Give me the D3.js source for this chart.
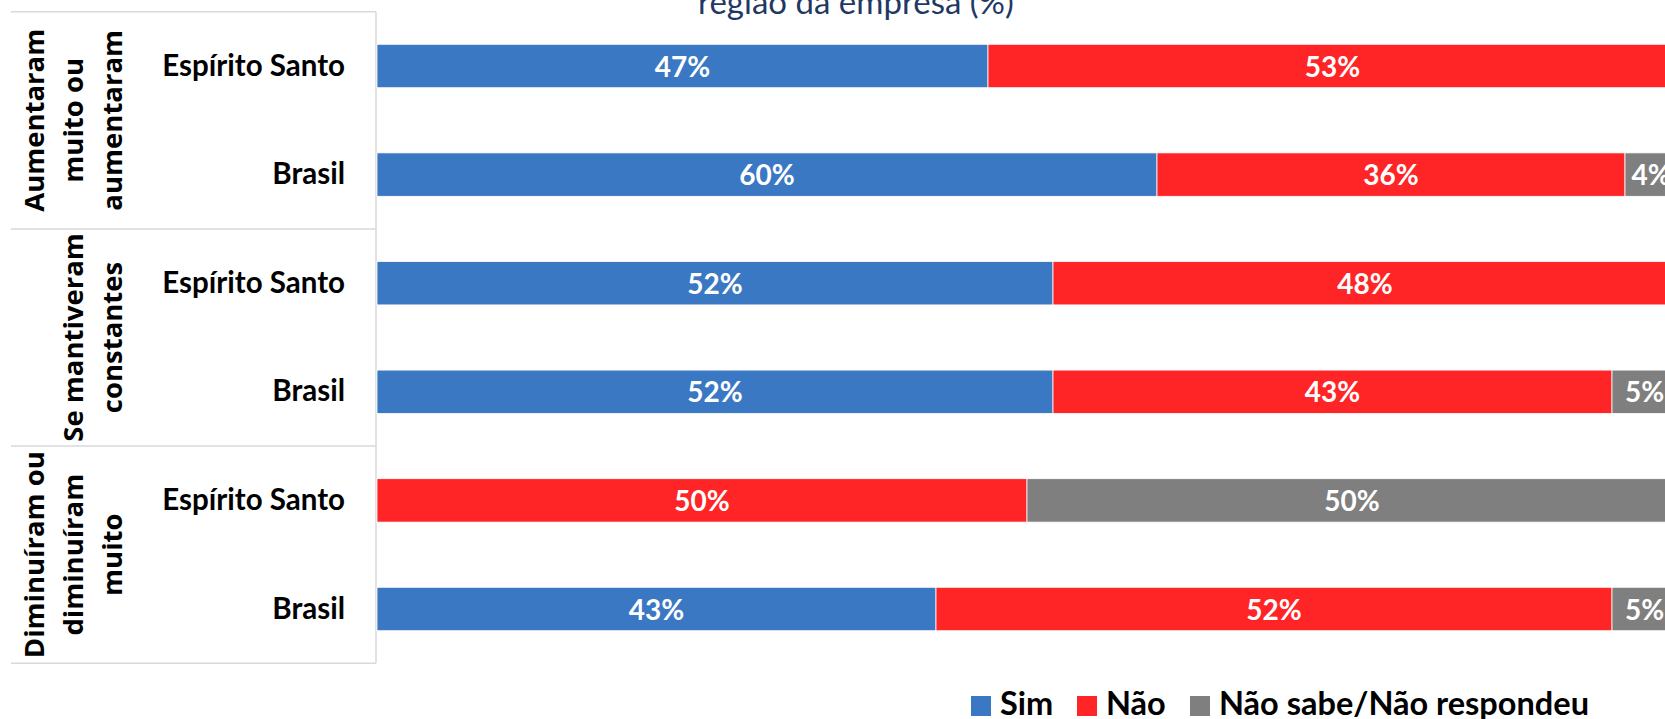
<!DOCTYPE html>
<html>
<head>
<meta charset="utf-8">
<script src="https://cdn.jsdelivr.net/npm/d3@7"></script>
<style>
  html, body { margin: 0; padding: 0; background: #ffffff; overflow: hidden; }
  svg { display: block; }
</style>
</head>
<body>
<svg id="chart" width="1665" height="719"></svg>
<script>
// data
var groupLabels = [
    ["Aumentaram", "muito ou", "aumentaram"],
    ["Se mantiveram", "constantes"],
    ["Diminuíram ou", "diminuíram", "muito"]
];
var rowLabels = ["Espírito Santo", "Brasil", "Espírito Santo", "Brasil", "Espírito Santo", "Brasil"];
var sim  = [47, 60, 52, 52, 0, 43];
var nao  = [53, 36, 48, 43, 50, 52];
var nsnr = [0, 4, 0, 5, 50, 5];
var seriesNames = ["Sim", "Não", "Não sabe/Não respondeu"];
var seriesColors = ["#3b78c4", "#ff2526", "#7f7f7f"];
var title = "região da empresa (%)";

var svg = d3.select("#chart"),
    width = +svg.attr("width"),
    height = +svg.attr("height");

var tableLeft = 11, tableRight = 376, tableTop = 11.7, tableBottom = 663.3;

// rows (band scale keeps every bar on the same grid as the table)
var rowIds = d3.range(rowLabels.length);
var y = d3.scaleBand()
    .domain(rowIds)
    .range([tableTop, tableBottom])
    .paddingInner(0.6)
    .paddingOuter(0.3);

var x = d3.scaleLinear().domain([0, 100]).range([377, 1677]);

var table = rowIds.map(function (i) {
    return { id: i, "Sim": sim[i], "Não": nao[i], "Não sabe/Não respondeu": nsnr[i] };
});
var stacked = d3.stack().keys(seriesNames)(table);

// title (clipped at the top in the original)
svg.append("text")
    .attr("x", 856)
    .attr("y", 14)
    .attr("text-anchor", "middle")
    .attr("fill", "#1f3864")
    .style("font-family", "Lato, 'Open Sans', sans-serif")
    .style("font-size", "33px")
    .text(title);

// table grid
var grid = svg.append("g").attr("stroke", "#d9d9d9").attr("stroke-width", 1.5);
var groupH = (tableBottom - tableTop) / groupLabels.length;
d3.range(groupLabels.length + 1).forEach(function (k) {
    grid.append("line")
        .attr("x1", tableLeft).attr("x2", tableRight)
        .attr("y1", tableTop + k * groupH).attr("y2", tableTop + k * groupH);
});
grid.append("line")
    .attr("x1", tableRight).attr("x2", tableRight)
    .attr("y1", tableTop).attr("y2", tableBottom);

// rotated group labels, last line always on the same baseline
groupLabels.forEach(function (lines, g) {
    var cy = tableTop + groupH * (g + 0.5);
    var n = lines.length;
    lines.forEach(function (line, j) {
        var bx = 122 - (n - 1 - j) * 39;
        svg.append("text")
            .attr("transform", "translate(" + bx + "," + cy + ") rotate(-90)")
            .attr("text-anchor", "middle")
            .attr("fill", "#000")
            .style("font-family", "'Open Sans', sans-serif")
            .style("font-weight", "bold")
            .style("font-size", "27.5px")
            .text(line);
    });
});

// row labels
svg.append("g").selectAll("text")
    .data(rowIds)
    .join("text")
    .attr("x", 345)
    .attr("y", function (i) { return y(i) + y.bandwidth() / 2 + 9.5; })
    .attr("text-anchor", "end")
    .attr("fill", "#000")
    .style("font-family", "Lato, sans-serif")
    .style("font-weight", "bold")
    .style("font-size", "29.5px")
    .text(function (i) { return rowLabels[i]; });

// bars
var layers = svg.append("g").selectAll("g")
    .data(stacked)
    .join("g")
    .attr("fill", function (d, k) { return seriesColors[k]; });

layers.selectAll("rect")
    .data(function (d) { return d; })
    .join("rect")
    .attr("x", function (d) { return x(d[0]); })
    .attr("y", function (d) { return y(d.data.id); })
    .attr("width", function (d) { return x(d[1]) - x(d[0]); })
    .attr("height", y.bandwidth())
    .attr("stroke", "#ffffff")
    .attr("stroke-width", 0.8);

layers.selectAll("text")
    .data(function (d) { return d.filter(function (s) { return s[1] - s[0] > 0; }); })
    .join("text")
    .attr("x", function (d) { return (x(d[0]) + x(d[1])) / 2; })
    .attr("y", function (d) { return y(d.data.id) + y.bandwidth() / 2 + 10.5; })
    .attr("text-anchor", "middle")
    .attr("fill", "#ffffff")
    .style("font-family", "Lato, sans-serif")
    .style("font-weight", "bold")
    .style("font-size", "28px")
    .text(function (d) { return (d[1] - d[0]) + "%"; });

// legend
var legendX = [971, 1077, 1190];
var legend = svg.append("g").selectAll("g")
    .data(seriesNames)
    .join("g")
    .attr("transform", function (d, k) { return "translate(" + legendX[k] + ",696)"; });
legend.append("rect")
    .attr("width", 20).attr("height", 20)
    .attr("fill", function (d, k) { return seriesColors[k]; });
legend.append("text")
    .attr("x", 29)
    .attr("y", 19)
    .attr("fill", "#000")
    .style("font-family", "Lato, sans-serif")
    .style("font-weight", "bold")
    .style("font-size", "32.5px")
    .text(function (d) { return d; });
</script>
</body>
</html>
